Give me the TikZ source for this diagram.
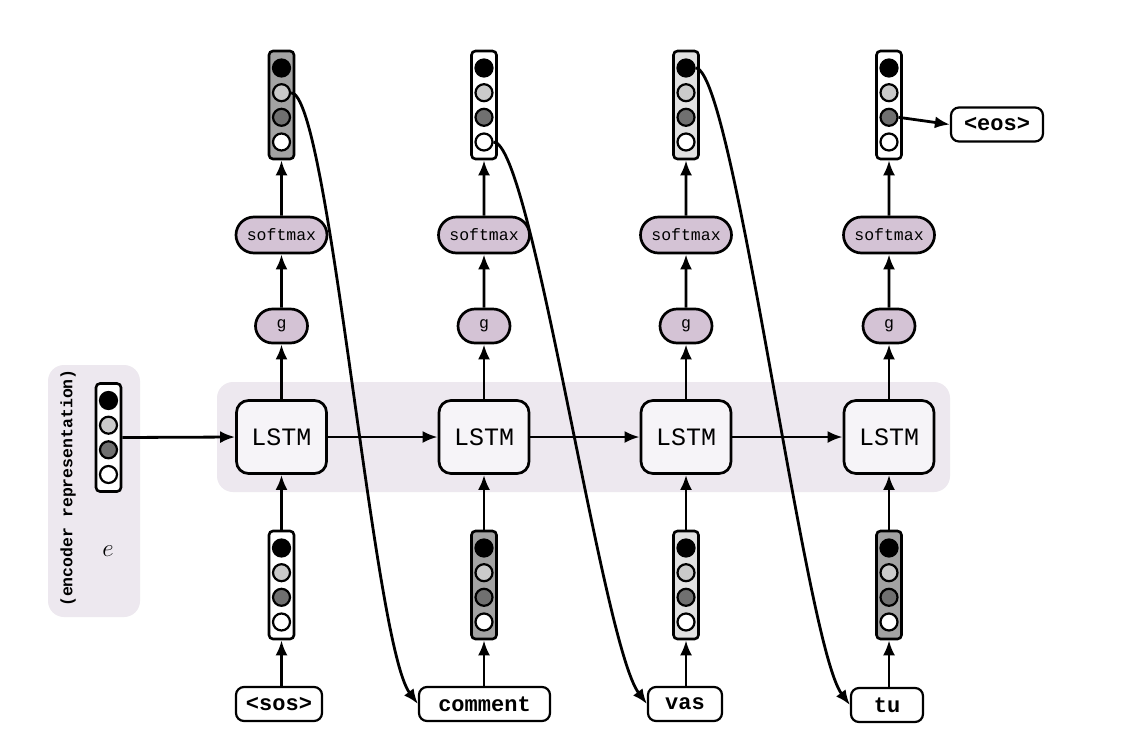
\documentclass[tikz,border=0pt]{standalone}
\usepackage{fontspec}
\setmonofont{Liberation Mono}
\usetikzlibrary{arrows.meta,shapes.misc}
\definecolor{vgray}{RGB}{163,163,163}
\definecolor{vlight}{RGB}{225,225,225}
\definecolor{cLight}{RGB}{202,202,202}
\definecolor{cDark}{RGB}{112,112,112}
\definecolor{pillc}{RGB}{212,195,213}
\definecolor{lstmc}{RGB}{246,244,248}
\definecolor{bandc}{RGB}{237,232,239}
\newcommand\mkvec[4]{%
  \node[vecbox,fill=#4] (#1) at (#2,#3) {};
  \node[dot,fill=black] (#1-1) at (#2,#3-37) {};
  \node[dot,fill=cLight] (#1-2) at (#2,#3-12.3) {};
  \node[dot,fill=cDark] (#1-3) at (#2,#3+12.3) {};
  \node[dot,fill=white] (#1-4) at (#2,#3+37) {};
}
\tikzset{
  vecbox/.style={draw,line width=2.6pt,rectangle,rounded corners=4pt,minimum width=25pt,minimum height=108pt,inner sep=0pt},
  dot/.style={draw,line width=2.2pt,circle,minimum size=17pt,inner sep=0pt},
  pill/.style={draw,line width=2.7pt,rounded rectangle,fill=pillc,inner sep=0pt,font=\ttfamily\fontsize{16.5}{18}\selectfont},
  smx/.style={pill,minimum width=91pt,minimum height=36pt},
  gnode/.style={pill,minimum width=52pt,minimum height=34pt},
  lstm/.style={draw,line width=2.7pt,rectangle,rounded corners=12pt,fill=lstmc,minimum width=90pt,minimum height=73pt,font=\ttfamily\fontsize{25}{27}\selectfont},
  word/.style={draw,line width=2.2pt,rectangle,rounded corners=8pt,fill=white,minimum height=34pt,inner sep=0pt,font=\ttfamily\bfseries\fontsize{22}{24}\selectfont},
  band/.style={rectangle,rounded corners=16pt,fill=bandc,inner sep=0pt},
  arr/.style={line width=2.8pt,-{Latex[length=15pt,width=12pt]}},
  curv/.style={line width=2.8pt,-{Latex[length=15pt,width=12pt]}}
}
\begin{document}
\begin{tikzpicture}[x=1pt,y=-1pt]
\useasboundingbox (0,0) rectangle (1134,750);
\fill[white] (0,0) rectangle (1134,750);
% backgrounds
\node[band,minimum width=733pt,minimum height=110pt] (bandbox) at (583.5,437) {};
\node[band,minimum width=92pt,minimum height=252pt] (encbox) at (94,491) {};
\node[rotate=90,font=\ttfamily\bfseries\fontsize{16.5}{18}\selectfont] (enctxt) at (68,488) {(encoder representation)};
\node[font=\fontsize{32}{34}\selectfont] (e) at (108,551) {$e$};
\mkvec{enc}{108.5}{437.5}{white}
% columns
\foreach \n/\x in {1/281.5,2/484,3/686,4/889}{
  \node[lstm] (l\n) at (\x,437) {LSTM};
  \node[gnode] (g\n) at (\x,326) {g};
  \node[smx] (s\n) at (\x,235) {softmax};
}
\mkvec{t1}{281.5}{105}{vgray}
\mkvec{t2}{484}{105}{white}
\mkvec{t3}{686}{105}{vlight}
\mkvec{t4}{889}{105}{white}
\mkvec{b1}{281.5}{585}{white}
\mkvec{b2}{484}{585}{vgray}
\mkvec{b3}{686}{585}{vlight}
\mkvec{b4}{889}{585}{vgray}
% words
\node[word,minimum width=86pt] (w1) at (279,704) {<sos>};
\node[word,minimum width=131pt] (w2) at (484.5,704) {comment};
\node[word,minimum width=74pt] (w3) at (685,704) {vas};
\node[word,minimum width=72pt] (w4) at (887,705) {tu};
\node[word,minimum width=92pt] (eos) at (997,124.5) {<eos>};
% vertical arrows
\foreach \n in {1,2,3,4}{
  \draw[arr] (b\n |- w\n.north) -- (b\n.south);
  \draw[arr] (b\n) -- (l\n);
  \draw[arr] (l\n) -- (g\n);
  \draw[arr] (g\n) -- (s\n);
  \draw[arr] (s\n) -- (t\n);
}
% horizontal arrows
\draw[arr] (enc.east) -- (l1.west);
\draw[arr] (l1) -- (l2);
\draw[arr] (l2) -- (l3);
\draw[arr] (l3) -- (l4);
\draw[arr] (t4-3.east) -- (eos.west);
% curves
\draw[curv] (t1-2.east) .. controls +(38,0) and +(-45,-60) .. (w2.west);
\draw[curv] (t2-4.east) .. controls +(38,0) and +(-45,-60) .. (w3.west);
\draw[curv] (t3-1.east) .. controls +(38,0) and +(-45,-60) .. (w4.west);
\end{tikzpicture}
\end{document}
